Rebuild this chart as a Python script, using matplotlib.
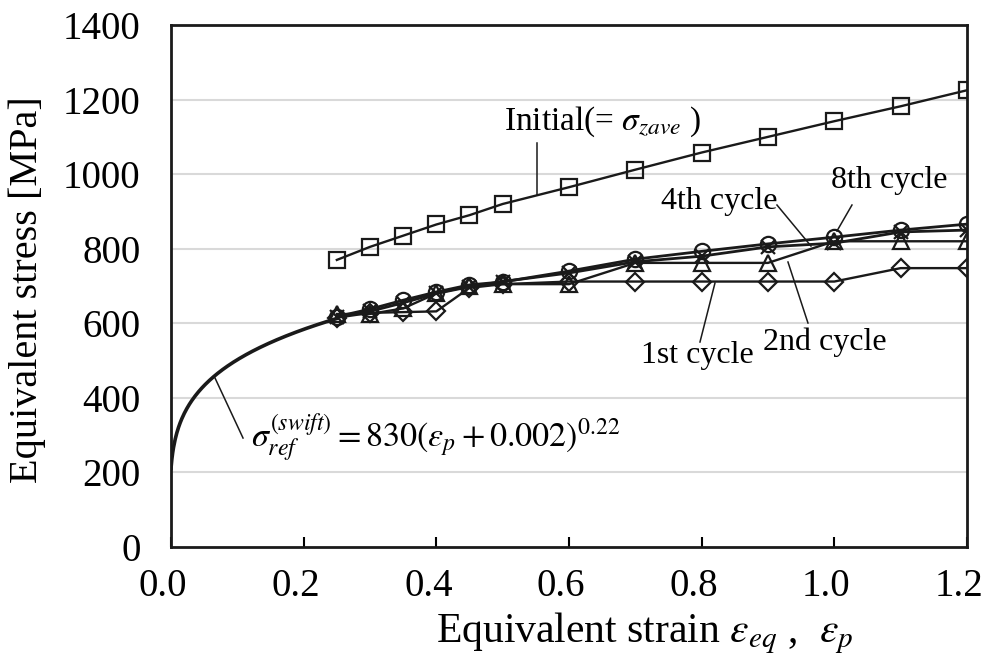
import numpy as np
import matplotlib
matplotlib.use("Agg")
import matplotlib.pyplot as plt
import matplotlib.transforms as mtransforms

plt.rcParams['font.family'] = ['Liberation Serif', 'DejaVu Serif']
plt.rcParams['mathtext.fontset'] = 'stix'

# Data
strain = [0.25, 0.3, 0.35, 0.4, 0.45, 0.5, 0.6, 0.7, 0.8, 0.9, 1.0, 1.1, 1.2]
initial = [770, 805, 835, 865, 890, 920, 965, 1012, 1058, 1100, 1142, 1182, 1225]
cycle1 = [615, 628, 630, 632, 695, 705, 712, 712, 712, 712, 712, 748, 748]
cycle2 = [625, 625, 640, 680, 700, 705, 705, 762, 762, 762, 820, 820, 820]
cycle4 = [618, 632, 655, 680, 698, 712, 735, 765, 780, 805, 815, 845, 850]
cycle8 = [618, 638, 662, 684, 703, 711, 740, 772, 793, 813, 831, 850, 866]

# Swift law parameters (from the chart's formula)
swift_K = 830
swift_e0 = 0.002
swift_n = 0.22
swift_range = (0.0, 0.25)

xticks = [0.0, 0.2, 0.4, 0.6, 0.8, 1.0, 1.2]
yticks = [0, 200, 400, 600, 800, 1000, 1200, 1400]

fig = plt.figure(figsize=(9.88, 6.65), dpi=100)
ax = fig.add_axes([0.1731, 0.1774, 0.8056, 0.785])

ax.set_xlim(0, 1.2)
ax.set_ylim(0, 1400)
for y in yticks[1:-1]:
    ax.axhline(y, color='#d9d9d9', lw=1.5, zorder=0)

ep = np.linspace(swift_range[0], swift_range[1], 200)
ax.plot(ep, swift_K * (ep + swift_e0) ** swift_n, color='#1a1a1a', lw=2.6, zorder=3)

mk = dict(markerfacecolor='none', markeredgecolor='#1a1a1a', markeredgewidth=1.6)
ax.plot(strain, initial, color='#1a1a1a', lw=1.7, marker='s', markersize=12, **mk, zorder=4)
ax.plot(strain, cycle1, color='#1a1a1a', lw=1.7, marker='D', markersize=9, **mk, zorder=4)
ax.plot(strain, cycle2, color='#1a1a1a', lw=1.7, marker='^', markersize=11, **mk, zorder=4)
ax.plot(strain, cycle4, color='#1a1a1a', lw=2.0, marker='x', markersize=10, **mk, zorder=4)
ax.plot(strain, cycle8, color='#1a1a1a', lw=2.0, marker='o', markersize=11, **mk, zorder=4)

ax.set_xticks(xticks)
ax.set_xticklabels([f"{v:.1f}" for v in xticks])
ax.set_yticks(yticks)
ax.set_yticklabels([str(v) for v in yticks])
ax.tick_params(axis='x', direction='in', length=7, width=1.5, labelsize=28, pad=15)
ax.tick_params(axis='y', length=0, labelsize=28, pad=22)
shift = mtransforms.ScaledTranslation(-8 / 100, 0, fig.dpi_scale_trans)
for lab in ax.get_xticklabels():
    lab.set_transform(lab.get_transform() + shift)
for s in ax.spines.values():
    s.set_linewidth(2)
    s.set_color('#1a1a1a')

fig.text(0.028, 0.565, 'Equivalent stress [MPa]', rotation=90, fontsize=29,
         ha='center', va='center')
fig.text(0.653, 0.048, r'Equivalent strain $\varepsilon_{eq}$ ,  $\varepsilon_p$',
         fontsize=30, ha='center', va='center')

lk = dict(color='#1a1a1a', lw=1.1)

def px(x, y):
    # figure pixel -> data coords
    xd = (x - 171) / (967 - 171) * 1.2
    yd = (547 - y) / (547 - 25) * 1400
    return xd, yd

def label(text, tx, ty, l0, l1, fs=23):
    ax.text(*px(tx, ty), text, fontsize=fs, ha='center', va='center', zorder=6)
    (x0, y0), (x1, y1) = px(*l0), px(*l1)
    ax.plot([x0, x1], [y0, y1], zorder=5, **lk)

label(r'Initial(= $\sigma_{zave}$ )', 603, 122, (537, 143), (537, 195), fs=24)
label('4th cycle', 719, 201, (777, 205), (811, 246))
label('8th cycle', 889, 180, (852, 205), (837, 231))
label('1st cycle', 697, 355, (700, 342), (715, 283))
label('2nd cycle', 825, 342, (808, 323), (788, 262))
label(r'$\sigma_{ref}^{(swift)} = 830(\varepsilon_p + 0.002)^{0.22}$', 436, 437,
      (215, 378), (243, 438), fs=24.5)

fig.savefig('out.png', dpi=100)
